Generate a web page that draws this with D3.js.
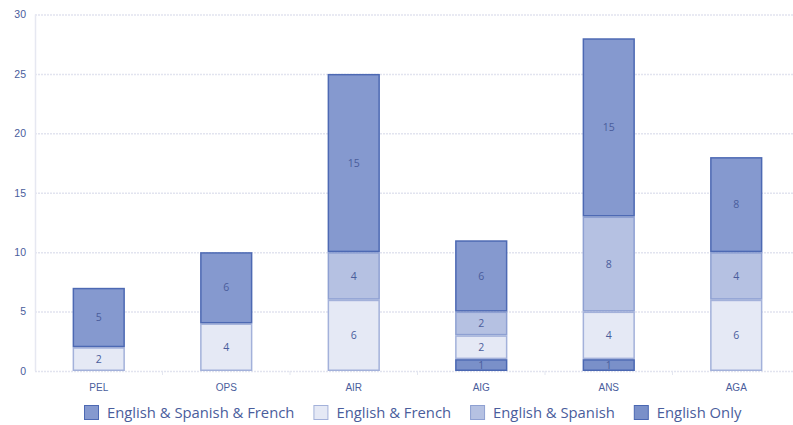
<!DOCTYPE html>
<html>
<head>
<meta charset="utf-8">
<script src="https://d3js.org/d3.v7.min.js"></script>
<style>
  body { margin: 0; background: #fff; }
  svg { font-family: "Open Sans", sans-serif; }
</style>
</head>
<body>
<div id="chart"></div>
<script>
// chart data
var categories = ['PEL', 'OPS', 'AIR', 'AIG', 'ANS', 'AGA'];
var seriesNames = ['English Only', 'English & French', 'English & Spanish', 'English & Spanish & French'];
var englishOnly = [0, 0, 0, 1, 1, 0];
var englishFrench = [2, 4, 6, 2, 4, 6];
var englishSpanish = [0, 0, 4, 2, 8, 4];
var englishSpanishFrench = [5, 6, 15, 6, 15, 8];
var yTicks = [0, 5, 10, 15, 20, 25, 30];
var legendOrder = ['English & Spanish & French', 'English & French', 'English & Spanish', 'English Only'];

var fills = {
  'English Only': '#7a90c9',
  'English & French': '#e5e9f5',
  'English & Spanish': '#b5c1e2',
  'English & Spanish & French': '#8599cf'
};
var strokes = {
  'English Only': '#4a67b2',
  'English & French': '#a3b1da',
  'English & Spanish': '#8ea0d2',
  'English & Spanish & French': '#4d69b3'
};

var width = 793, height = 425;
var textColor = '#4a5d9c';

// build rows for the stack
var rows = categories.map(function(c, i) {
  return {
    cat: c,
    'English Only': englishOnly[i],
    'English & French': englishFrench[i],
    'English & Spanish': englishSpanish[i],
    'English & Spanish & French': englishSpanishFrench[i]
  };
});

var svg = d3.select('#chart').append('svg')
  .attr('width', width)
  .attr('height', height);

var x = d3.scaleBand()
  .domain(categories)
  .range([35, 800])
  .paddingInner(0.59)
  .paddingOuter(0.295);

var y = d3.scaleLinear()
  .domain([0, 30])
  .range([371, 14.5]);

// gridlines
svg.append('g')
  .selectAll('line')
  .data(yTicks)
  .enter().append('line')
    .attr('x1', 35)
    .attr('x2', 793)
    .attr('y1', function(d) { return y(d) + 0.5; })
    .attr('y2', function(d) { return y(d) + 0.5; })
    .attr('stroke', '#e2e4ef')
    .attr('stroke-width', 1.5)
    .attr('stroke-dasharray', '2,1');

// vertical axis line
svg.append('line')
  .attr('x1', 35.5).attr('x2', 35.5)
  .attr('y1', y(30)).attr('y2', y(0))
  .attr('stroke', '#e6e8f1')
  .attr('stroke-width', 1.5);

// y axis labels
var yAxis = d3.axisLeft(y).tickValues(yTicks).tickSize(0).tickPadding(9);
var yg = svg.append('g')
  .attr('transform', 'translate(35,0)')
  .call(yAxis);
yg.select('.domain').remove();
yg.selectAll('text')
  .attr('fill', textColor)
  .style('font-size', '10.5px');

// x axis labels under bars
var xAxis = d3.axisBottom(x).tickSize(0).tickPadding(13);
var xg = svg.append('g')
  .attr('transform', 'translate(0,' + y(0) + ')')
  .call(xAxis);
xg.select('.domain').remove();
xg.selectAll('text')
  .attr('fill', textColor)
  .style('font-size', '10px');

// small ticks at the band edges
svg.append('g')
  .selectAll('line')
  .data(categories.slice(1))
  .enter().append('line')
    .attr('x1', function(d) { return x(d) - (x.step() - x.bandwidth()) / 2; })
    .attr('x2', function(d) { return x(d) - (x.step() - x.bandwidth()) / 2; })
    .attr('y1', y(0))
    .attr('y2', y(0) + 4)
    .attr('stroke', '#e3e6f0');

// stacked bars
var stack = d3.stack().keys(seriesNames);
var layers = stack(rows);

var layer = svg.append('g')
  .selectAll('g')
  .data(layers)
  .enter().append('g')
    .attr('fill', function(d) { return fills[d.key]; })
    .attr('stroke', function(d) { return strokes[d.key]; });

layer.selectAll('rect')
  .data(function(d) { return d.filter(function(p) { return p[1] - p[0] > 0; }); })
  .enter().append('rect')
    .attr('x', function(d) { return x(d.data.cat) + 0.75; })
    .attr('y', function(d) { return y(d[1]) + 0.75; })
    .attr('width', x.bandwidth() - 1.5)
    .attr('height', function(d) { return y(d[0]) - y(d[1]) - 1.5; })
    .attr('stroke-width', 1.5);

// value labels inside segments
layer.selectAll('text')
  .data(function(d) { return d.filter(function(p) { return p[1] - p[0] > 0; }); })
  .enter().append('text')
    .attr('x', function(d) { return x(d.data.cat) + x.bandwidth() / 2; })
    .attr('y', function(d) { return (y(d[0]) + y(d[1])) / 2; })
    .attr('dy', '0.35em')
    .attr('text-anchor', 'middle')
    .attr('stroke', 'none')
    .attr('fill', textColor)
    .style('font-size', '10.5px')
    .text(function(d) { return d[1] - d[0]; });

// legend
var legend = svg.append('g').attr('transform', 'translate(0,413)');
var lx = 84;
legendOrder.forEach(function(name) {
  var item = legend.append('g').attr('transform', 'translate(' + lx + ',0)');
  item.append('rect')
    .attr('x', 0.5).attr('y', -7.5)
    .attr('width', 14).attr('height', 14)
    .attr('fill', fills[name])
    .attr('stroke', strokes[name]);
  var t = item.append('text')
    .attr('x', 23)
    .attr('y', 0)
    .attr('dy', '0.35em')
    .attr('fill', textColor)
    .style('font-size', '14.8px')
    .text(name);
  lx += 23 + t.node().getComputedTextLength() + 19;
});
</script>
</body>
</html>
